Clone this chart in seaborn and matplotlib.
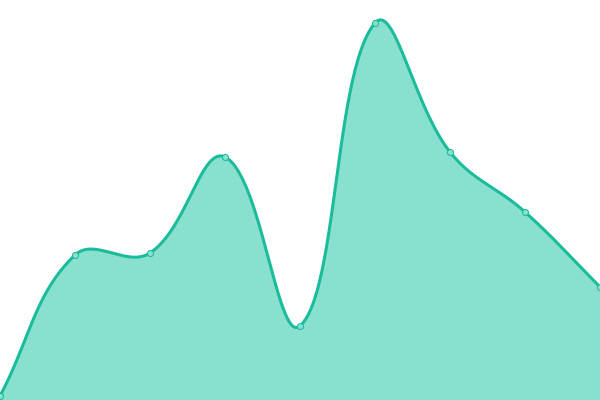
import numpy as np
import pandas as pd
import matplotlib
matplotlib.use("Agg")
import matplotlib.pyplot as plt
import seaborn as sns

# data
categories = list(range(9))
values = [4, 145, 147, 243, 74, 377, 248, 188, 113]

LINE = "#1abc9c"
FILL = "#89e0cf"
W, H = 600, 400
TENSION = 0.4

def spline(xs, ys, t=TENSION, n=60):
    # work in pixel space
    P = np.column_stack([np.asarray(xs, float) * W / (len(xs) - 1),
                         H - np.asarray(ys, float)])
    N = len(P)
    prev_c = np.zeros_like(P); next_c = np.zeros_like(P)
    for i in range(N):
        cur = P[i]
        prv = P[i - 1] if i > 0 else cur
        nxt = P[i + 1] if i < N - 1 else cur
        d01 = np.hypot(*(cur - prv)); d12 = np.hypot(*(nxt - cur))
        s = d01 + d12
        s01 = d01 / s if s else 0; s12 = d12 / s if s else 0
        prev_c[i] = cur - t * s01 * (nxt - prv)
        next_c[i] = cur + t * s12 * (nxt - prv)
    prev_c[:, 0] = np.clip(prev_c[:, 0], 0, W); prev_c[:, 1] = np.clip(prev_c[:, 1], 0, H)
    next_c[:, 0] = np.clip(next_c[:, 0], 0, W); next_c[:, 1] = np.clip(next_c[:, 1], 0, H)
    u = np.linspace(0, 1, n, endpoint=False)[:, None]
    segs = []
    for i in range(N - 1):
        p0, p1, p2, p3 = P[i], next_c[i], prev_c[i + 1], P[i + 1]
        segs.append((1-u)**3*p0 + 3*(1-u)**2*u*p1 + 3*(1-u)*u**2*p2 + u**3*p3)
    segs.append(P[-1][None, :])
    C = np.vstack(segs)
    return C[:, 0] * (len(xs) - 1) / W, H - C[:, 1]

sx, sy = spline(categories, values)
smooth = pd.DataFrame({"x": sx, "y": sy})
pts = pd.DataFrame({"x": categories, "y": values})

fig = plt.figure(figsize=(6, 4), dpi=100)
ax = fig.add_axes([0, 0, 1, 1])
ax.fill_between(sx, sy, 0, color=FILL, linewidth=0, zorder=1)
sns.lineplot(data=smooth, x="x", y="y", ax=ax, color=LINE, linewidth=2.2,
             sort=False, estimator=None, zorder=2)
sns.scatterplot(data=pts, x="x", y="y", ax=ax, s=19, color=FILL,
                edgecolor=LINE, linewidth=0.75, zorder=3)
ax.set_xlim(0, 8)
ax.set_ylim(0, 400)
ax.axis("off")
fig.savefig("out.png", dpi=100)
